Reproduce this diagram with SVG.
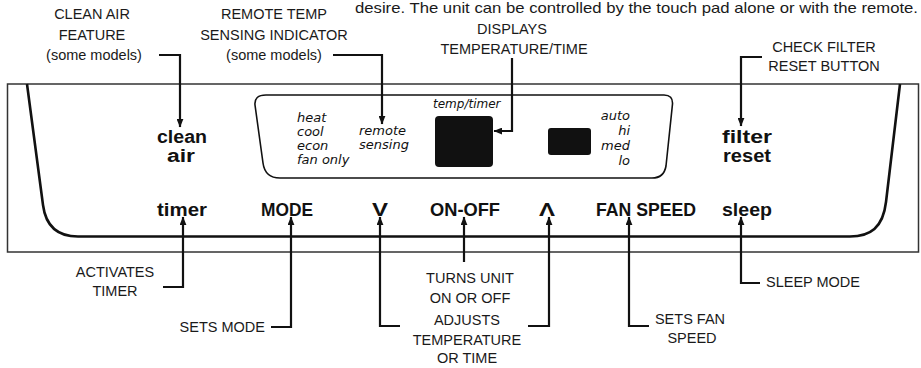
<svg xmlns="http://www.w3.org/2000/svg" width="921" height="368" viewBox="0 0 921 368">
<style>
.lbl{font-family:"Liberation Sans",Arial,sans-serif;font-size:14.5px;fill:#1a1a1a}
.mid{text-anchor:middle}
.btn{font-family:"Liberation Sans",Arial,sans-serif;font-size:18px;font-weight:bold;fill:#111;text-anchor:middle}
.it{font-family:"DejaVu Sans",sans-serif;font-style:italic;font-size:13px;fill:#111}
.conn{fill:none;stroke:#111;stroke-width:2.2;marker-end:url(#ah)}
</style>
<defs>
<marker id="ah" viewBox="0 0 10 8" refX="9.5" refY="4" markerWidth="9" markerHeight="7" markerUnits="userSpaceOnUse" orient="auto">
<path d="M0,0 L10,4 L0,8 Z" fill="#111"/>
</marker>
</defs>
<rect width="921" height="368" fill="#fff"/>
<text class="lbl" x="355" y="12.5" textLength="563" lengthAdjust="spacingAndGlyphs">desire. The unit can be controlled by the touch pad alone or with the remote.</text>

<g id="panel">
<rect x="7.5" y="84" width="911" height="168" fill="none" stroke="#333" stroke-width="1.5"/>
<path d="M27,84 L43,205 C46,228 60,236.5 78,236.5 L850,236.5 C870,236.5 883,228 886,202 L900,84" fill="none" stroke="#111" stroke-width="2.6"/>
</g>

<g id="display">
<path d="M266,95 L664,95 Q673,95 672.5,104 L666,166 Q664,178 652,178 L280,178 Q265,178 263,163 L255,105 Q254,95 266,95 Z" fill="none" stroke="#111" stroke-width="1.6"/>
<text class="it" x="297" y="122">heat</text>
<text class="it" x="297" y="136">cool</text>
<text class="it" x="297" y="150">econ</text>
<text class="it" x="297" y="164">fan only</text>
<text class="it" x="359" y="135">remote</text>
<text class="it" x="359" y="149">sensing</text>
<text class="it" x="433" y="108" style="font-size:12px">temp/timer</text>
<rect x="435" y="116" width="58" height="51" rx="4" fill="#111"/>
<rect x="548" y="128" width="43" height="27" rx="3" fill="#111"/>
<text class="it" x="630" y="120" text-anchor="end">auto</text>
<text class="it" x="630" y="135" text-anchor="end">hi</text>
<text class="it" x="630" y="150" text-anchor="end">med</text>
<text class="it" x="630" y="165" text-anchor="end">lo</text>
</g>

<g id="btn-clean-air">
<text class="btn" x="182" y="143" textLength="50" lengthAdjust="spacingAndGlyphs">clean</text>
<text class="btn" x="181" y="162" textLength="28" lengthAdjust="spacingAndGlyphs">air</text>
</g>
<g id="btn-filter-reset">
<text class="btn" x="747" y="143" textLength="50" lengthAdjust="spacingAndGlyphs">filter</text>
<text class="btn" x="747" y="162" textLength="48" lengthAdjust="spacingAndGlyphs">reset</text>
</g>
<g id="btn-timer"><text class="btn" x="182" y="216" textLength="50" lengthAdjust="spacingAndGlyphs">timer</text></g>
<g id="btn-mode"><text class="btn" x="287" y="216" textLength="52" lengthAdjust="spacingAndGlyphs">MODE</text></g>
<g id="btn-down"><text class="btn" x="380" y="216" textLength="16" lengthAdjust="spacingAndGlyphs">V</text></g>
<g id="btn-onoff"><text class="btn" x="465" y="216" textLength="70" lengthAdjust="spacingAndGlyphs">ON-OFF</text></g>
<g id="btn-up"><text class="btn" x="547" y="216" textLength="16" lengthAdjust="spacingAndGlyphs">Λ</text></g>
<g id="btn-fanspeed"><text class="btn" x="646" y="216" textLength="100" lengthAdjust="spacingAndGlyphs">FAN SPEED</text></g>
<g id="btn-sleep"><text class="btn" x="747" y="216" textLength="50" lengthAdjust="spacingAndGlyphs">sleep</text></g>

<g id="lbl-clean-air">
<text class="lbl mid" x="92" y="19">CLEAN AIR</text>
<text class="lbl mid" x="92" y="40">FEATURE</text>
<text class="lbl mid" x="94" y="60">(some models)</text>
</g>
<g id="lbl-remote">
<text class="lbl mid" x="274" y="19">REMOTE TEMP</text>
<text class="lbl mid" x="274" y="40">SENSING INDICATOR</text>
<text class="lbl mid" x="274" y="60">(some models)</text>
</g>
<g id="lbl-displays">
<text class="lbl mid" x="512" y="34">DISPLAYS</text>
<text class="lbl mid" x="514" y="54">TEMPERATURE/TIME</text>
</g>
<g id="lbl-filter">
<text class="lbl mid" x="824" y="52">CHECK FILTER</text>
<text class="lbl mid" x="824" y="71">RESET BUTTON</text>
</g>
<g id="lbl-timer">
<text class="lbl mid" x="115" y="277">ACTIVATES</text>
<text class="lbl mid" x="115" y="296">TIMER</text>
</g>
<g id="lbl-mode"><text class="lbl" x="265" y="332" text-anchor="end">SETS MODE</text></g>
<g id="lbl-onoff">
<text class="lbl mid" x="470" y="283">TURNS UNIT</text>
<text class="lbl mid" x="470" y="303">ON OR OFF</text>
</g>
<g id="lbl-adjust">
<text class="lbl mid" x="467" y="325">ADJUSTS</text>
<text class="lbl mid" x="467" y="345">TEMPERATURE</text>
<text class="lbl mid" x="467" y="363">OR TIME</text>
</g>
<g id="lbl-fan">
<text class="lbl mid" x="690" y="324">SETS FAN</text>
<text class="lbl mid" x="692" y="343">SPEED</text>
</g>
<g id="lbl-sleep"><text class="lbl" x="766" y="287">SLEEP MODE</text></g>

<g id="connectors">
<path class="conn" d="M159,55 H180 V127"/>
<path class="conn" d="M333,55 H382 V124"/>
<path class="conn" d="M512,58 V131 H494"/>
<path class="conn" d="M762,57 H741 V126"/>
<path class="conn" d="M163,287 H183 V217"/>
<path class="conn" d="M271,327 H291 V217"/>
<path class="conn" d="M464,262 V217"/>
<path class="conn" d="M400,326 H380 V217"/>
<path class="conn" d="M528,326 H549 V217"/>
<path class="conn" d="M649,326 H629 V217"/>
<path class="conn" d="M760,283 H741 V217"/>
</g>
</svg>
